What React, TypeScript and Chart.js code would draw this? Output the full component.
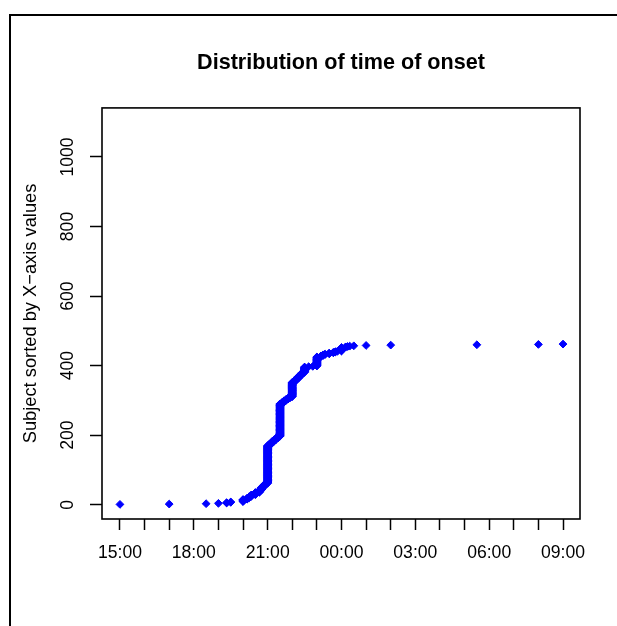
import React, { useEffect, useRef } from 'react';
import { Chart, registerables } from 'chart.js';

Chart.register(...registerables);

// Onset clock times (sorted) and number of subjects sharing each time
const onsetTimes = [
  '15:00', '17:00', '18:30', '19:00', '19:20', '19:30',
  '20:00', '20:10', '20:15', '20:20', '20:30', '20:40', '20:45', '20:50', '20:55',
  '21:00', '21:05', '21:10', '21:15', '21:20', '21:25',
  '21:30', '21:35', '21:40', '21:45', '21:50', '21:55',
  '22:00', '22:05', '22:10', '22:15', '22:20', '22:25',
  '22:30', '22:40', '22:50',
  '23:00', '23:10', '23:15', '23:20', '23:30', '23:40', '23:45', '23:50',
  '00:00', '00:10', '00:15', '00:20', '00:30',
  '01:00', '02:00', '05:30', '08:00', '09:00',
];
const subjectCounts = [
  1, 1, 1, 1, 2, 2,
  7, 4, 4, 5, 7, 7, 8, 6, 5,
  109, 5, 6, 5, 5, 5,
  94, 4, 5, 4, 4, 3,
  42, 5, 6, 6, 6, 5,
  16, 1, 1,
  27, 3, 3, 2, 3, 2, 2, 1,
  11, 2, 1, 1, 1,
  1, 1, 1, 1, 1,
];

const xTickHours = [15, 16, 17, 18, 19, 20, 21, 22, 23, 24, 25, 26, 27, 28, 29, 30, 31, 32, 33];
const xLabelHours = [15, 18, 21, 24, 27, 30, 33];
const xLabelTexts = ['15:00', '18:00', '21:00', '00:00', '03:00', '06:00', '09:00'];
const yTicks = [0, 200, 400, 600, 800, 1000];

const titleText = 'Distribution of time of onset';
const yTitleText = 'Subject sorted by X\u2212axis values';

function toHours(t: string): number {
  const [h, m] = t.split(':').map(Number);
  let v = h + m / 60;
  if (v < 12) v += 24;
  return v;
}

const FONT = "'Liberation Sans', Arial, Helvetica, sans-serif";

export default function App() {
  const ref = useRef<HTMLCanvasElement | null>(null);

  useEffect(() => {
    if (!ref.current) return;
    const points: { x: number; y: number }[] = [];
    let rank = 0;
    onsetTimes.forEach((t, i) => {
      const h = toHours(t);
      for (let k = 0; k < subjectCounts[i]; k++) {
        rank += 1;
        points.push({ x: h, y: rank });
      }
    });

    const framePlugin = {
      id: 'frameBox',
      beforeDraw(chart: any) {
        const ctx = chart.ctx;
        ctx.save();
        ctx.fillStyle = '#fff';
        ctx.fillRect(0, 0, chart.width, chart.height);
        ctx.fillStyle = '#000';
        ctx.fillRect(9, 14, chart.width - 9, 2);
        ctx.fillRect(9, 14, 2, chart.height - 14);
        ctx.restore();
      },
      afterDraw(chart: any) {
        const { left, top, right, bottom } = chart.chartArea;
        const ctx = chart.ctx;
        ctx.save();
        ctx.strokeStyle = '#000';
        ctx.lineWidth = 1.6;
        ctx.strokeRect(left, top, right - left, bottom - top);
        ctx.restore();
      },
    };

    const chart = new Chart(ref.current, {
      type: 'scatter',
      data: {
        datasets: [
          {
            data: points,
            pointStyle: 'rectRot',
            pointRadius: 3.9,
            pointHoverRadius: 3.9,
            backgroundColor: '#0000ff',
            borderColor: '#0000ff',
            borderWidth: 1,
          },
        ],
      },
      options: {
        responsive: false,
        animation: false,
        layout: { padding: { left: 0, right: 37, top: 0, bottom: 0 } },
        plugins: {
          legend: { display: false },
          tooltip: { enabled: false },
          title: {
            display: true,
            text: titleText,
            fullSize: false,
            color: '#000',
            font: { family: FONT, size: 21.6, weight: 'bold' },
            padding: { top: 50, bottom: 32 },
          },
        },
        scales: {
          x: {
            type: 'linear',
            min: 14.27,
            max: 33.69,
            afterBuildTicks(scale: any) {
              scale.ticks = xTickHours.map((v) => ({ value: v }));
            },
            afterFit(scale: any) {
              scale.height = 107;
            },
            ticks: {
              autoSkip: false,
              maxRotation: 0,
              minRotation: 0,
              padding: 13,
              color: '#000',
              font: { family: FONT, size: 17.6 },
              callback(value: any) {
                const idx = xLabelHours.indexOf(Number(value));
                return idx >= 0 ? xLabelTexts[idx] : '';
              },
            },
            grid: {
              display: true,
              drawOnChartArea: false,
              drawTicks: true,
              tickLength: 11,
              tickColor: '#000',
              tickWidth: 1.5,
            },
            border: { display: false },
          },
          y: {
            type: 'linear',
            min: -41,
            max: 1141,
            afterBuildTicks(scale: any) {
              scale.ticks = yTicks.map((v) => ({ value: v }));
            },
            afterFit(scale: any) {
              scale.width = 102;
            },
            ticks: {
              autoSkip: false,
              minRotation: 90,
              maxRotation: 90,
              crossAlign: 'center',
              padding: 2,
              color: '#000',
              font: { family: FONT, size: 17.6 },
              callback(value: any) {
                return String(value);
              },
            },
            grid: {
              display: true,
              drawOnChartArea: false,
              drawTicks: true,
              tickLength: 12,
              tickColor: '#000',
              tickWidth: 1.5,
            },
            border: { display: false },
            title: {
              display: true,
              text: yTitleText,
              color: '#000',
              font: { family: FONT, size: 18.3 },
              padding: { top: 20, bottom: 0 },
            },
          },
        },
      },
      plugins: [framePlugin],
    } as any);

    return () => chart.destroy();
  }, []);

  return (
    <canvas
      ref={ref}
      width={617}
      height={626}
      style={{ position: 'fixed', left: 0, top: 0, width: 617, height: 626 }}
    />
  );
}
